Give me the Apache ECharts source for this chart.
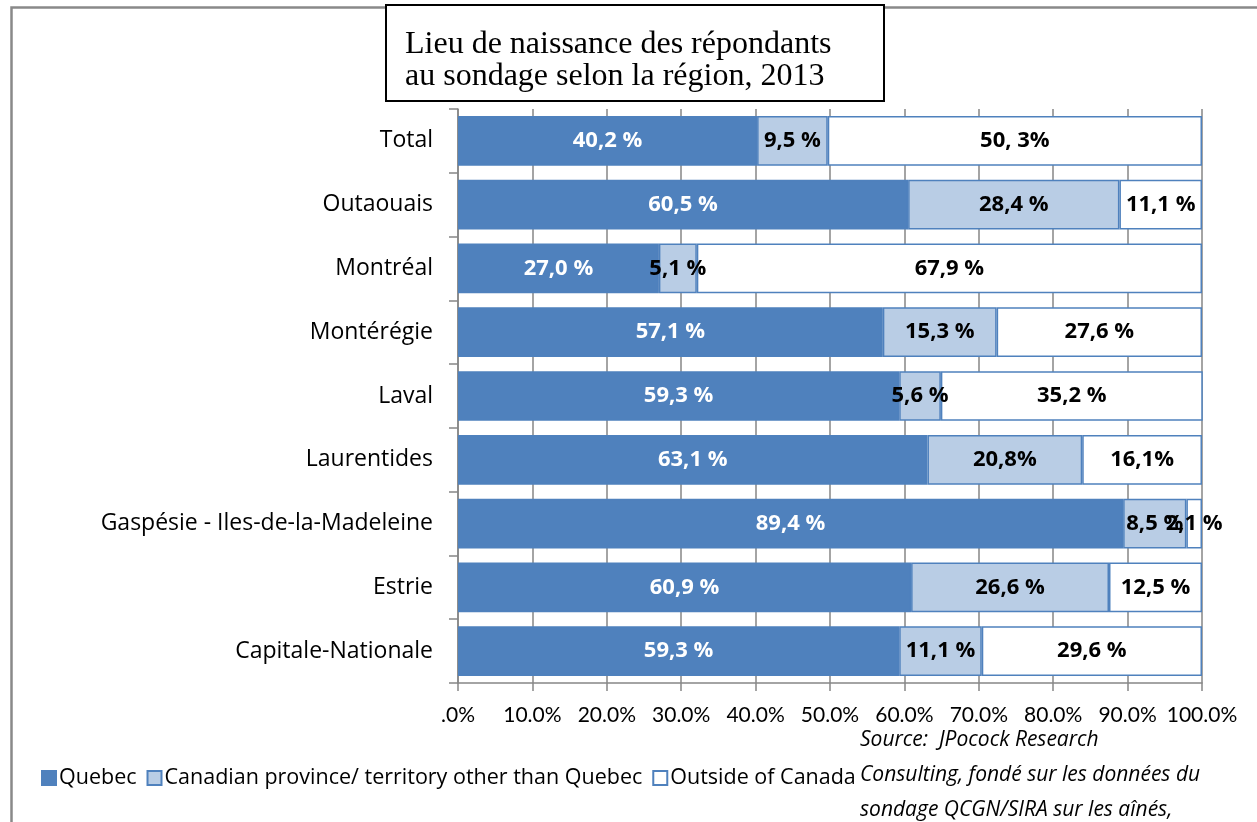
<!DOCTYPE html>
<html>
<head>
<meta charset="utf-8">
<title>Lieu de naissance des répondants</title>
<script src="https://cdn.jsdelivr.net/npm/echarts@6/dist/echarts.min.js"></script>
<style>
  html, body { margin: 0; padding: 0; background: #fff; }
  #chart { width: 1257px; height: 822px; }
</style>
</head>
<body>
<div id="chart"></div>
<script>
// --- données ---
const regions = ['Total', 'Outaouais', 'Montréal', 'Montérégie', 'Laval', 'Laurentides',
    'Gaspésie - Iles-de-la-Madeleine', 'Estrie', 'Capitale-Nationale'];
const quebec = [40.2, 60.5, 27.0, 57.1, 59.3, 63.1, 89.4, 60.9, 59.3];
const autreProvince = [9.5, 28.4, 5.1, 15.3, 5.6, 20.8, 8.5, 26.6, 11.1];
const horsCanada = [50.3, 11.1, 67.9, 27.6, 35.2, 16.1, 2.1, 12.5, 29.6];
// étiquettes telles qu'écrites dans le graphique
const quebecLabels = ['40,2 %', '60,5 %', '27,0 %', '57,1 %', '59,3 %', '63,1 %', '89,4 %', '60,9 %', '59,3 %'];
const autreLabels = ['9,5 %', '28,4 %', '5,1 %', '15,3 %', '5,6 %', '20,8%', '8,5 %', '26,6 %', '11,1 %'];
const horsLabels = ['50, 3%', '11,1 %', '67,9 %', '27,6 %', '35,2 %', '16,1%', '2,1 %', '12,5 %', '29,6 %'];
const seriesNames = ['Quebec', 'Canadian province/ territory other than Quebec', 'Outside of Canada'];

const FONT = '"Open Sans", Lato, sans-serif';
const BLUE = '#4F81BD';

const chart = echarts.init(document.getElementById('chart'));

function makeSeries(name, data, labels, fill, textColor) {
    return {
        name: name,
        type: 'bar',
        stack: 'total',
        barWidth: '78%',
        data: data,
        itemStyle: { color: fill, borderColor: BLUE, borderWidth: 1.5 },
        label: {
            show: true,
            position: 'inside',
            formatter: p => labels[p.dataIndex],
            color: textColor,
            fontFamily: FONT,
            fontWeight: 'bold',
            fontSize: 22
        },
        emphasis: { disabled: true }
    };
}

const option = {
    animation: false,
    backgroundColor: '#fff',
    grid: { left: 458, right: 55, top: 109, bottom: 139 },
    legend: {
        data: seriesNames,
        icon: 'rect',
        left: 36,
        top: 762,
        itemWidth: 14,
        itemHeight: 14,
        itemGap: 10,
        textStyle: { fontFamily: FONT, fontSize: 21.5, color: '#000', padding: [0, 0, 0, -2] }
    },
    xAxis: {
        type: 'value',
        min: 0,
        max: 100,
        interval: 10,
        axisLine: { show: true, lineStyle: { color: '#868686', width: 1.5 } },
        axisTick: { show: true, length: 8, lineStyle: { color: '#868686', width: 1.5 } },
        splitLine: { show: true, lineStyle: { color: '#868686', width: 1.5 } },
        axisLabel: {
            margin: 22,
            fontFamily: 'Lato, sans-serif',
            fontSize: 21,
            color: '#000',
            formatter: v => v === 0 ? '.0%' : v.toFixed(1) + '%'
        }
    },
    yAxis: {
        type: 'category',
        inverse: true,
        data: regions,
        axisLine: { show: true, lineStyle: { color: '#868686', width: 1.5 } },
        axisTick: { show: true, length: 9, lineStyle: { color: '#868686', width: 1.5 } },
        axisLabel: { margin: 25, fontFamily: FONT, fontSize: 23, color: '#000' }
    },
    series: [
        makeSeries(seriesNames[0], quebec, quebecLabels, BLUE, '#fff'),
        makeSeries(seriesNames[1], autreProvince, autreLabels, '#B9CDE5', '#000'),
        makeSeries(seriesNames[2], horsCanada, horsLabels, '#fff', '#000')
    ],
    graphic: [
        // cadre extérieur
        {
            type: 'rect', silent: true, z: -1,
            shape: { x: 11.5, y: 7.5, width: 1260, height: 830 },
            style: { fill: 'none', stroke: '#898989', lineWidth: 2.5 }
        },
        // boîte du titre
        {
            type: 'rect', silent: true,
            shape: { x: 386, y: 5, width: 498, height: 96 },
            style: { fill: '#fff', stroke: '#000', lineWidth: 2 }
        },
        {
            type: 'text', silent: true, left: 405, top: 29,
            style: {
                text: 'Lieu de naissance des répondants\nau sondage selon la région, 2013',
                font: '32px "Liberation Serif", "DejaVu Serif", serif',
                lineHeight: 32,
                fill: '#000'
            }
        },
        // source
        {
            type: 'text', silent: true, left: 860, top: 723,
            style: {
                text: 'Source:  JPocock Research\nConsulting, fondé sur les données du\nsondage QCGN/SIRA sur les aînés,',
                font: 'italic 21px ' + FONT,
                lineHeight: 35,
                fill: '#000'
            }
        }
    ]
};

chart.setOption(option);
window.addEventListener('resize', () => chart.resize());
</script>
</body>
</html>
